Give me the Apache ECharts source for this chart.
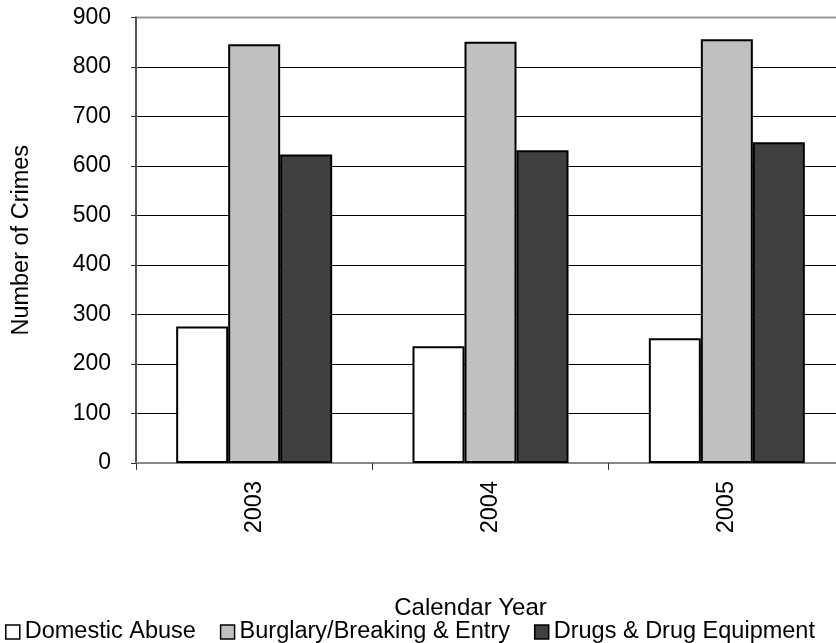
<!DOCTYPE html>
<html>
<head>
<meta charset="utf-8">
<script src="https://cdn.jsdelivr.net/npm/echarts@6/dist/echarts.min.js"></script>
<style>
html,body{margin:0;padding:0;background:#fff;}
#chart{width:836px;height:643px;}
</style>
</head>
<body>
<div id="chart"></div>
<script>
var categories = ['2003', '2004', '2005'];
var seriesNames = ['Domestic Abuse', 'Burglary/Breaking & Entry', 'Drugs & Drug Equipment'];
var domesticAbuse = [276, 236, 252];
var burglary = [846, 851, 856];
var drugs = [623, 632, 648];
var yTicks = { min: 0, max: 900, interval: 100 };

var FONT = "'Liberation Sans', Arial, sans-serif";
var colors = ['#FFFFFF', '#C0C0C0', '#404040'];
var values = [domesticAbuse, burglary, drugs];

var chart = echarts.init(document.getElementById('chart'), null, { renderer: 'canvas' });
chart.setOption({
  animation: false,
  backgroundColor: '#fff',
  textStyle: { fontFamily: FONT },
  grid: {
    left: 136, top: 17.5, width: 709, height: 445.5,
    outerBoundsMode: 'none',
    containLabel: false,
    show: true, borderColor: '#999', borderWidth: 2, backgroundColor: 'transparent'
  },
  legend: {
    left: 0, top: 615, width: 900,
    orient: 'horizontal',
    itemWidth: 14, itemHeight: 14, itemGap: 24,
    icon: 'rect',
    textStyle: { fontFamily: FONT, fontSize: 23.5, color: '#000' },
    data: seriesNames.map(function (n, i) {
      return { name: n, itemStyle: { color: colors[i], borderColor: '#000', borderWidth: 1.5 } };
    })
  },
  xAxis: {
    type: 'category',
    data: categories,
    name: 'Calendar Year',
    nameLocation: 'middle',
    nameGap: 133,
    nameTextStyle: { fontFamily: FONT, fontSize: 24, color: '#000', padding: [0, 40, 0, 0] },
    axisLine: { lineStyle: { color: '#888', width: 2 } },
    axisTick: { show: true, length: 7, lineStyle: { color: '#333', width: 1 } },
    axisLabel: { rotate: 90, margin: 18, fontFamily: FONT, fontSize: 23.5, color: '#000' },
    splitLine: { show: false }
  },
  yAxis: {
    type: 'value',
    min: yTicks.min, max: yTicks.max, interval: yTicks.interval,
    name: 'Number of Crimes',
    nameLocation: 'middle',
    nameGap: 102,
    nameTextStyle: { fontFamily: FONT, fontSize: 23.5, color: '#000' },
    axisLine: { show: true, lineStyle: { color: '#555', width: 2 } },
    axisTick: { show: true, inside: false, length: 5, lineStyle: { color: '#333' } },
    axisLabel: { margin: 25, fontFamily: FONT, fontSize: 23, color: '#000' },
    splitLine: { show: true, showMinLine: false, showMaxLine: false, lineStyle: { color: '#000', width: 1 } }
  },
  series: seriesNames.map(function (n, i) {
    return {
      name: n,
      type: 'bar',
      data: values[i],
      barWidth: 52,
      barGap: '0%',
      itemStyle: { color: colors[i], borderColor: '#000', borderWidth: 2 }
    };
  })
});
</script>
</body>
</html>
